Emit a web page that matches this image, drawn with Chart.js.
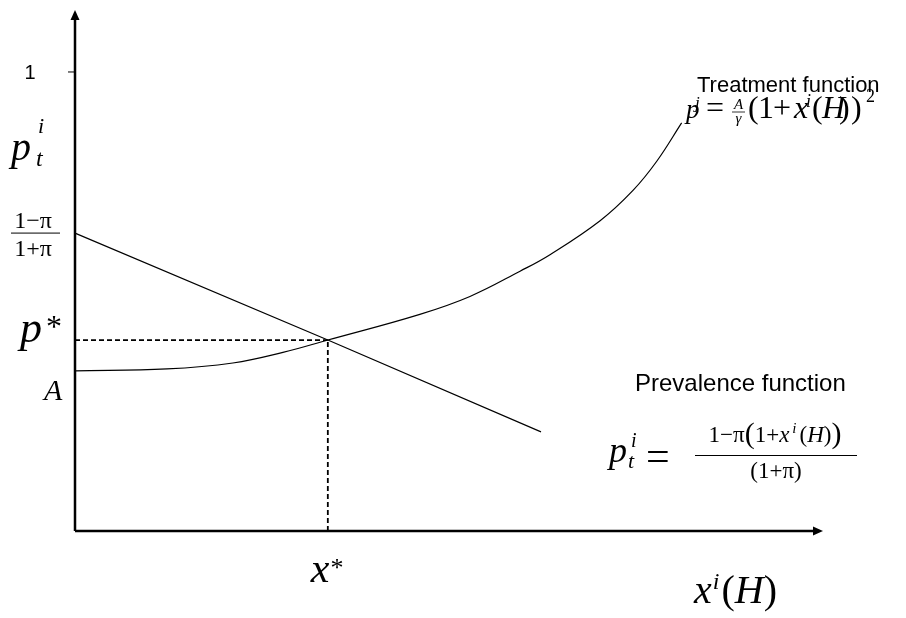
<!DOCTYPE html>
<html>
<head>
<meta charset="utf-8">
<script src="https://cdn.jsdelivr.net/npm/chart.js@4/dist/chart.umd.min.js"></script>
<style>
  html, body { margin: 0; padding: 0; background: #ffffff; }
  #wrap { width: 906px; height: 618px; }
</style>
</head>
<body>
<div id="wrap"><canvas id="c" width="906" height="618"></canvas></div>
<script>
// Treatment function p^j(x^i(H)), sampled along the curve
const treatX = [0, 1.23, 2.11, 2.78, 3.38, 4.61, 5.28, 5.95, 6.35, 7.02, 7.46, 7.78, 8.11];
const treatY = [0.349, 0.353, 0.366, 0.389, 0.416, 0.472, 0.511, 0.566, 0.602, 0.676, 0.742, 0.806, 0.889];

// Prevalence function p_t^i(x^i(H)), a straight line
const prevX = [0, 3.38, 6.23];
const prevY = [0.649, 0.416, 0.216];

// Equilibrium (x*, p*)
const eqX = 3.38;
const eqY = 0.416;

// Marked values on the vertical axis
const yTickValues = [1];
const yTickLabels = ['1'];
const interceptPrev = 0.649;   // (1-pi)/(1+pi)
const interceptTreat = 0.349;  // A

// Axis extents
const xMax = 10;
const yMax = 1.135;

const SERIF = '"Liberation Serif", "DejaVu Serif", serif';
const SANS = '"Liberation Sans", Arial, sans-serif';

const toPts = (xs, ys) => xs.map((x, i) => ({ x: x, y: ys[i] }));

function runsWidth(ctx, runs) {
  let w = 0;
  for (const r of runs) { ctx.font = r.f; w += ctx.measureText(r.t).width + (r.dx || 0); }
  return w;
}
function drawRuns(ctx, runs, x, y, align) {
  let cx = align === 'center' ? x - runsWidth(ctx, runs) / 2 : x;
  for (const r of runs) {
    ctx.font = r.f;
    cx += r.dx || 0;
    ctx.fillText(r.t, cx, y + (r.dy || 0));
    cx += ctx.measureText(r.t).width;
  }
}
function drawAt(ctx, t, f, x, y) {
  ctx.font = f;
  ctx.fillText(t, x, y);
}

const diagramPlugin = {
  id: 'diagram',
  afterDatasetsDraw(chart) {
    const ctx = chart.ctx;
    const xs = chart.scales.x, ys = chart.scales.y;
    const x0 = xs.getPixelForValue(0), y0 = ys.getPixelForValue(0);
    const xEnd = xs.getPixelForValue(xMax), yEnd = ys.getPixelForValue(yMax);
    ctx.save();
    ctx.fillStyle = '#000';
    ctx.strokeStyle = '#000';

    // axes with arrowheads
    ctx.lineWidth = 2.5;
    ctx.beginPath();
    ctx.moveTo(x0, y0); ctx.lineTo(x0, yEnd + 8);
    ctx.moveTo(x0, y0); ctx.lineTo(xEnd - 8, y0);
    ctx.stroke();
    ctx.beginPath();
    ctx.moveTo(x0, yEnd); ctx.lineTo(x0 - 4.5, yEnd + 10); ctx.lineTo(x0 + 4.5, yEnd + 10); ctx.closePath();
    ctx.fill();
    ctx.beginPath();
    ctx.moveTo(xEnd, y0); ctx.lineTo(xEnd - 10, y0 - 4.5); ctx.lineTo(xEnd - 10, y0 + 4.5); ctx.closePath();
    ctx.fill();

    // tick marks and labels on the vertical axis
    ctx.lineWidth = 1;
    yTickValues.forEach((v, i) => {
      const py = ys.getPixelForValue(v);
      ctx.beginPath(); ctx.moveTo(x0 - 7, py); ctx.lineTo(x0, py); ctx.stroke();
      ctx.font = '20px ' + SANS;
      ctx.textAlign = 'center'; ctx.textBaseline = 'middle';
      ctx.fillText(yTickLabels[i], 30, py + 1.5);
    });
    ctx.textAlign = 'left'; ctx.textBaseline = 'alphabetic';

    // vertical axis name p_t^i
    drawAt(ctx, 'p', 'italic 40px ' + SERIF, 11, 160);
    drawAt(ctx, 'i', 'italic 22px ' + SERIF, 38, 133);
    drawAt(ctx, 't', 'italic 24px ' + SERIF, 36, 166);

    // (1-pi)/(1+pi) intercept label
    const pyPrev = ys.getPixelForValue(interceptPrev);
    drawRuns(ctx, [{ t: '1\u2212\u03C0', f: '24px ' + SERIF }], 33, pyPrev - 5, 'center');
    ctx.beginPath(); ctx.moveTo(11, pyPrev); ctx.lineTo(60, pyPrev); ctx.stroke();
    drawRuns(ctx, [{ t: '1+\u03C0', f: '24px ' + SERIF }], 33, pyPrev + 23, 'center');

    // p* label
    const pyEq = ys.getPixelForValue(eqY);
    drawRuns(ctx, [{ t: 'p', f: 'italic 44px ' + SERIF }, { t: '*', f: '32px ' + SERIF, dy: -5, dx: 4 }], 20, pyEq + 2);

    // A label
    const pyA = ys.getPixelForValue(interceptTreat);
    drawAt(ctx, 'A', 'italic 30px ' + SERIF, 44, pyA + 29);

    // x* label
    const pxEq = xs.getPixelForValue(eqX);
    drawRuns(ctx, [{ t: 'x', f: 'italic 42px ' + SERIF }, { t: '*', f: '26px ' + SERIF, dy: -6, dx: 1 }], pxEq - 17, 582);

    // horizontal axis name x^i(H)
    drawRuns(ctx, [
      { t: 'x', f: 'italic 40px ' + SERIF },
      { t: 'i', f: 'italic 24px ' + SERIF, dy: -14, dx: 1 },
      { t: '(', f: '40px ' + SERIF, dx: 2 },
      { t: 'H', f: 'italic 40px ' + SERIF },
      { t: ')', f: '40px ' + SERIF }
    ], 694, 603);

    // Treatment function and its formula
    drawAt(ctx, 'Treatment function', '22px ' + SANS, 697, 92);
    const fy = 118;
    const big = '32px ' + SERIF, bigI = 'italic 32px ' + SERIF;
    drawAt(ctx, 'p', 'italic 27px ' + SERIF, 686, fy);
    drawAt(ctx, 'j', 'italic 17px ' + SERIF, 695, fy - 10);
    drawAt(ctx, '=', big, 706, fy);
    ctx.textAlign = 'center';
    drawAt(ctx, 'A', 'italic 15px ' + SERIF, 738.5, fy - 9);
    drawAt(ctx, '\u03B3', 'italic 15px ' + SERIF, 738.5, fy + 5);
    ctx.textAlign = 'left';
    ctx.lineWidth = 0.8;
    ctx.beginPath(); ctx.moveTo(732, fy - 6); ctx.lineTo(745, fy - 6); ctx.stroke();
    drawAt(ctx, '(', big, 748, fy);
    drawAt(ctx, '1', big, 758, fy);
    drawAt(ctx, '+', big, 773, fy);
    drawAt(ctx, 'x', bigI, 794, fy);
    drawAt(ctx, 'i', 'italic 18px ' + SERIF, 806, fy - 11);
    drawAt(ctx, '(', big, 812, fy);
    drawAt(ctx, 'H', bigI, 822, fy);
    drawAt(ctx, ')', big, 839, fy);
    drawAt(ctx, ')', big, 851, fy);
    drawAt(ctx, '2', '18px ' + SERIF, 866, fy - 16);

    // Prevalence function and its formula
    drawAt(ctx, 'Prevalence function', '24px ' + SANS, 635, 391);
    drawAt(ctx, 'p', 'italic 36px ' + SERIF, 609, 462);
    drawAt(ctx, 'i', 'italic 20px ' + SERIF, 631, 447);
    drawAt(ctx, 't', 'italic 22px ' + SERIF, 628, 468);
    drawAt(ctx, '=', '42px ' + SERIF, 646, 470);
    drawRuns(ctx, [
      { t: '1\u2212\u03C0', f: '23px ' + SERIF },
      { t: '(', f: '30px ' + SERIF, dy: 1 },
      { t: '1+', f: '23px ' + SERIF },
      { t: 'x', f: 'italic 23px ' + SERIF },
      { t: 'i', f: 'italic 15px ' + SERIF, dy: -9, dx: 3 },
      { t: '(', f: '23px ' + SERIF, dx: 3 },
      { t: 'H', f: 'italic 23px ' + SERIF },
      { t: ')', f: '23px ' + SERIF },
      { t: ')', f: '30px ' + SERIF, dy: 1 }
    ], 775, 442, 'center');
    ctx.lineWidth = 1;
    ctx.beginPath(); ctx.moveTo(695, 455.5); ctx.lineTo(857, 455.5); ctx.stroke();
    drawRuns(ctx, [{ t: '(1+\u03C0)', f: '23px ' + SERIF }], 776, 478, 'center');

    ctx.restore();
  }
};

new Chart(document.getElementById('c'), {
  type: 'line',
  data: {
    datasets: [
      {
        data: toPts(treatX, treatY),
        borderColor: '#000', borderWidth: 1.2, pointRadius: 0,
        tension: 0.4, fill: false, clip: false
      },
      {
        data: toPts(prevX, prevY),
        borderColor: '#000', borderWidth: 1.2, pointRadius: 0,
        tension: 0, fill: false, clip: false
      },
      {
        data: [{ x: 0, y: eqY }, { x: eqX, y: eqY }],
        borderColor: '#000', borderWidth: 1.8, borderDash: [5, 3], pointRadius: 0,
        fill: false, clip: false
      },
      {
        data: [{ x: eqX, y: 0 }, { x: eqX, y: eqY }],
        borderColor: '#000', borderWidth: 1.8, borderDash: [5, 3], pointRadius: 0,
        fill: false, clip: false
      }
    ]
  },
  options: {
    responsive: false,
    animation: false,
    devicePixelRatio: 1,
    layout: { padding: { left: 75, right: 83, top: 10, bottom: 87 } },
    scales: {
      x: { type: 'linear', min: 0, max: xMax, display: false },
      y: { type: 'linear', min: 0, max: yMax, display: false }
    },
    plugins: { legend: { display: false }, tooltip: { enabled: false } },
    events: []
  },
  plugins: [diagramPlugin]
});
</script>
</body>
</html>
